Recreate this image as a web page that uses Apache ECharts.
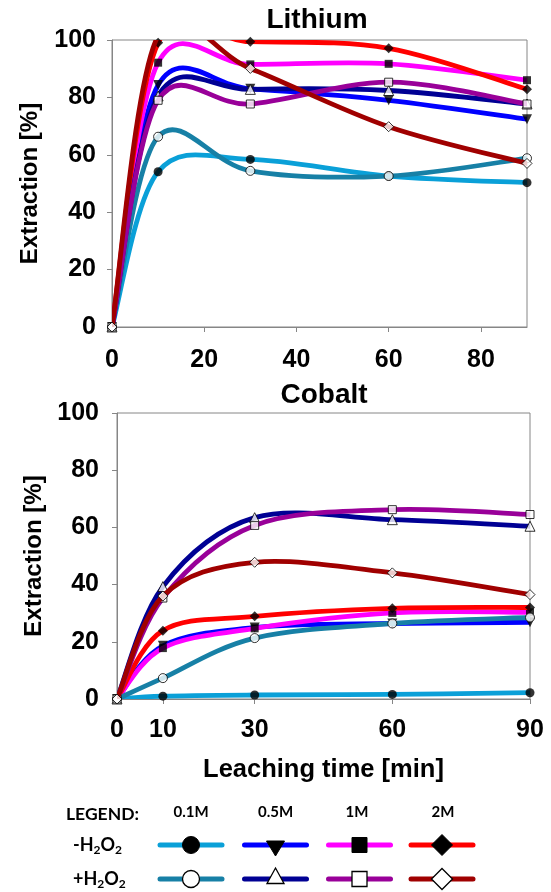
<!DOCTYPE html>
<html><head><meta charset="utf-8">
<script src="https://cdn.jsdelivr.net/npm/echarts@6/dist/echarts.min.js"></script>
<style>html,body{margin:0;padding:0;background:#fff}#c{width:551px;height:892px}</style>
</head><body><div id="c"></div>
<script>
// ---------- data ----------
const time = [0, 10, 30, 60, 90];
const liXTicks = [0, 20, 40, 60, 80];
const coXTicks = [0, 10, 30, 60, 90];
const concentrations = ['0.1M', '0.5M', '1M', '2M'];
const conditions = ['-H2O2', '+H2O2'];

// Lithium extraction [%]
const li_01_minus = [0, 54.1, 58.4, 52.6, 50.3];
const li_05_minus = [0, 84.3, 83.0, 79.0, 72.4];
const li_1_minus  = [0, 92.1, 91.5, 91.7, 86.0];
const li_2_minus  = [0, 99.0, 99.4, 97.1, 82.8];
const li_01_plus  = [0, 66.3, 54.4, 52.6, 58.8];
const li_05_plus  = [0, 80.5, 82.8, 82.4, 77.7];
const li_1_plus   = [0, 79.0, 77.7, 85.3, 77.7];
const li_2_plus   = [0, 101.5, 90.1, 69.8, 57.0];

// Cobalt extraction [%]
const co_01_minus = [0, 1.0, 1.4, 1.6, 2.2];
const co_05_minus = [0, 18.6, 25.0, 26.4, 26.8];
const co_1_minus  = [0, 17.8, 24.7, 30.1, 30.3];
const co_2_minus  = [0, 23.9, 28.9, 31.7, 32.0];
const co_01_plus  = [0, 7.3, 21.3, 26.4, 28.5];
const co_05_plus  = [0, 39.3, 63.4, 62.7, 60.4];
const co_1_plus   = [0, 35.3, 60.7, 66.2, 64.5];
const co_2_plus   = [0, 36.0, 47.8, 44.1, 36.5];

// ---------- styles ----------
const FONT = '"Liberation Sans", Arial, sans-serif';
const LFONT = 'Lato, "Open Sans", sans-serif';
const colors = {
  minus: ['#0aa0d8', '#0000ff', '#ff00ff', '#ff0000'],
  plus:  ['#1780a6', '#000094', '#990099', '#a00000']
};
const symbols = ['circle', 'triangle', 'rect', 'diamond'];
const symbolSizes = [9, 10, 8, 10];

const liSets = { minus: [li_01_minus, li_05_minus, li_1_minus, li_2_minus], plus: [li_01_plus, li_05_plus, li_1_plus, li_2_plus] };
const coSets = { minus: [co_01_minus, co_05_minus, co_1_minus, co_2_minus], plus: [co_01_plus, co_05_plus, co_1_plus, co_2_plus] };

function curveSeries(name, g, ys, color, z) {
  return {
    name: name, type: 'custom', xAxisIndex: g, yAxisIndex: g, clip: true, z: z, silent: true,
    data: time.map((t, i) => [t, ys[i]]),
    renderItem: function (params, api) {
      if (params.dataIndex !== 0) return null;
      const pts = time.map((t, i) => api.coord([t, ys[i]]));
      let d = 'M' + pts[0][0] + ' ' + pts[0][1];
      for (let i = 0; i < pts.length - 1; i++) {
        const p0 = pts[Math.max(i - 1, 0)], p1 = pts[i], p2 = pts[i + 1], p3 = pts[Math.min(i + 2, pts.length - 1)];
        const c1x = p1[0] + (p2[0] - p0[0]) / 6, c1y = p1[1] + (p2[1] - p0[1]) / 6;
        const c2x = p2[0] - (p3[0] - p1[0]) / 6, c2y = p2[1] - (p3[1] - p1[1]) / 6;
        d += ' C' + c1x + ' ' + c1y + ' ' + c2x + ' ' + c2y + ' ' + p2[0] + ' ' + p2[1];
      }
      return { type: 'path', shape: { pathData: d }, style: { fill: 'none', stroke: color, lineWidth: 4.8, lineCap: 'round', lineJoin: 'round' } };
    }
  };
}
function markerSeries(name, g, ys, k, filled, z) {
  return {
    name: name, type: 'scatter', xAxisIndex: g, yAxisIndex: g, z: z, silent: true, clip: false,
    symbol: symbols[k], symbolSize: symbolSizes[k], symbolRotate: (k === 1 && filled) ? 180 : 0,
    data: time.map((t, i) => [t, (ys[i] > 100 || ys[i] < 0) ? '-' : ys[i]]),
    itemStyle: filled ? { color: '#000' } : { color: '#fff', borderColor: '#000', borderWidth: 1 },
    emphasis: { disabled: true }, animation: false
  };
}

const series = [];
let z = 2;
[[liSets, 0], [coSets, 1]].forEach(([sets, g]) => {
  ['minus', 'plus'].forEach((cond, ci) => {
    sets[cond].forEach((ys, k) => {
      const nm = concentrations[k] + ' ' + conditions[ci];
      series.push(curveSeries(nm, g, ys, colors[cond][k], z++));
      series.push(markerSeries(nm, g, ys, k, cond === 'minus', z++));
    });
  });
});

function yAxis(g) {
  return {
    gridIndex: g, type: 'value', min: 0, max: 100, interval: 20,
    name: 'Extraction [%]', nameLocation: 'middle', nameGap: 70,
    nameTextStyle: { fontFamily: FONT, fontWeight: 'bold', fontSize: 24, color: '#000' },
    axisLine: { show: true, lineStyle: { color: '#868686', width: 1 } },
    axisTick: { show: true, length: 5, lineStyle: { color: '#868686' } },
    axisLabel: { fontFamily: FONT, fontWeight: 'bold', fontSize: 25, color: '#000', margin: g === 0 ? 16 : 18 },
    splitLine: { show: false }
  };
}

// legend graphics
const legendY = { head: 812, rows: [845, 879] };
const legendX = [191, 275.5, 359.5, 442];
const legendLabelX = [191, 275.5, 357, 443];
const graphic = [
  { type: 'text', x: 317, y: 20, style: { text: 'Lithium', font: 'bold 28px ' + FONT, fill: '#000', align: 'center', verticalAlign: 'middle' } },
  { type: 'text', x: 324, y: 395, style: { text: 'Cobalt', font: 'bold 28px ' + FONT, fill: '#000', align: 'center', verticalAlign: 'middle' } },
  { type: 'text', x: 66, y: legendY.head + 2, style: { text: 'LEGEND:', font: 'bold 17.5px ' + LFONT, fill: '#000', align: 'left', verticalAlign: 'middle' } }
];
concentrations.forEach((c, k) => {
  graphic.push({ type: 'text', x: legendLabelX[k], y: legendY.head, style: { text: c, font: 'bold 15px ' + LFONT, fill: '#000', align: 'center', verticalAlign: 'middle' } });
});
conditions.forEach((cond, ri) => {
  const y = legendY.rows[ri];
  graphic.push({ type: 'text', x: 73, y: y - 11, style: {
    text: cond.charAt(0) + 'H{s|2}O{s|2}', font: 'bold 18px ' + LFONT, fill: '#000', align: 'left', verticalAlign: 'top', lineHeight: 22,
    rich: { s: { fontFamily: LFONT, fontWeight: 'bold', fontSize: 12, fill: '#000', verticalAlign: 'bottom', lineHeight: 12 } } } });
  const key = ri === 0 ? 'minus' : 'plus';
  const filled = ri === 0;
  concentrations.forEach((c, k) => {
    const cx = legendX[k];
    graphic.push({ type: 'line', shape: { x1: cx - 31, y1: y, x2: cx + 31, y2: y }, style: { stroke: colors[key][k], lineWidth: 5, lineCap: 'round' } });
    const st = filled ? { fill: '#000', stroke: '#000', lineWidth: 1 } : { fill: '#fff', stroke: '#000', lineWidth: 1.3 };
    let el;
    if (k === 0) el = { type: 'circle', shape: { cx: cx, cy: y, r: 8.5 }, style: st };
    else if (k === 1) el = filled
      ? { type: 'polygon', shape: { points: [[cx - 9, y - 4], [cx + 9, y - 4], [cx, y + 11]] }, style: st }
      : { type: 'polygon', shape: { points: [[cx, y - 11], [cx + 8.5, y + 4.5], [cx - 8.5, y + 4.5]] }, style: st };
    else if (k === 2) el = { type: 'rect', shape: { x: cx - 7.5, y: y - 7.5, width: 15, height: 15 }, style: st };
    else el = { type: 'polygon', shape: { points: [[cx, y - 10.5], [cx + 10.5, y], [cx, y + 10.5], [cx - 10.5, y]] }, style: st };
    el.z = 100;
    graphic.push(el);
  });
});

const chart = echarts.init(document.getElementById('c'), null, { renderer: 'canvas' });
chart.setOption({
  animation: false,
  backgroundColor: '#fff',
  grid: [
    { left: 112, top: 40, width: 415, height: 287, show: true, borderColor: '#868686', borderWidth: 1 },
    { left: 117, top: 413, width: 413, height: 286, show: true, borderColor: '#868686', borderWidth: 1 }
  ],
  xAxis: [
    { gridIndex: 0, type: 'value', min: 0, max: 90,
      axisLine: { show: true, onZero: false, lineStyle: { color: '#868686' } },
      axisTick: { show: true, length: 5, customValues: liXTicks, lineStyle: { color: '#868686' } },
      axisLabel: { customValues: liXTicks, fontFamily: FONT, fontWeight: 'bold', fontSize: 25, color: '#000', margin: 21 },
      splitLine: { show: false } },
    { gridIndex: 1, type: 'value', min: 0, max: 90,
      name: 'Leaching time [min]', nameLocation: 'middle', nameGap: 58,
      nameTextStyle: { fontFamily: FONT, fontWeight: 'bold', fontSize: 25.5, color: '#000' },
      axisLine: { show: true, onZero: false, lineStyle: { color: '#868686' } },
      axisTick: { show: true, length: 5, customValues: coXTicks, lineStyle: { color: '#868686' } },
      axisLabel: { customValues: coXTicks, fontFamily: FONT, fontWeight: 'bold', fontSize: 25, color: '#000', margin: 19 },
      splitLine: { show: false } }
  ],
  yAxis: [yAxis(0), yAxis(1)],
  series: series,
  graphic: graphic
});
</script>
</body></html>
